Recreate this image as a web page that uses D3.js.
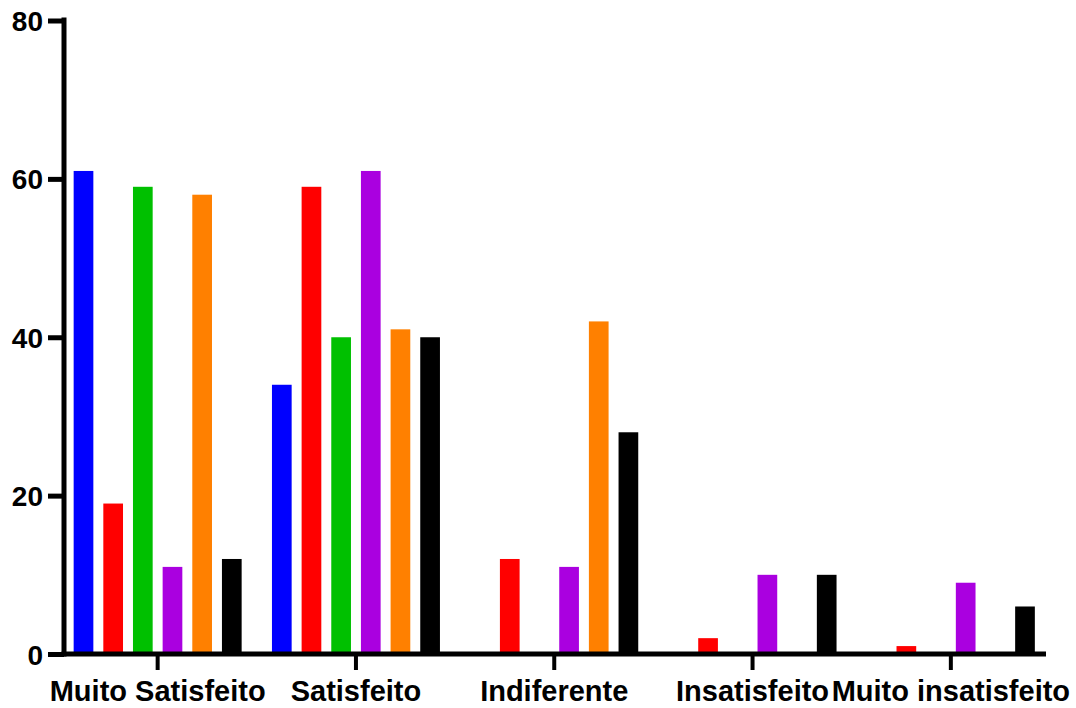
<!DOCTYPE html>
<html>
<head>
<meta charset="utf-8">
<script src="https://cdn.jsdelivr.net/npm/d3@7"></script>
<style>
  html, body { margin: 0; padding: 0; background: #fff; }
  svg { display: block; }
  text { font-family: "Liberation Sans", Arial, Helvetica, sans-serif; font-weight: bold; fill: #000; }
</style>
</head>
<body>
<svg id="chart" width="1076" height="708"></svg>
<script>
const categories = ["Muito Satisfeito", "Satisfeito", "Indiferente", "Insatisfeito", "Muito insatisfeito"];
const seriesNames = ["S1", "S2", "S3", "S4", "S5", "S6"];
const seriesColors = ["#0000ff", "#ff0000", "#00c000", "#aa00e0", "#ff8000", "#000000"];
const s1 = [61, 34, 0, 0, 0];
const s2 = [19, 59, 12, 2, 1];
const s3 = [59, 40, 0, 0, 0];
const s4 = [11, 61, 11, 10, 9];
const s5 = [58, 41, 42, 0, 0];
const s6 = [12, 40, 28, 10, 6];
const seriesValues = [s1, s2, s3, s4, s5, s6];
const yTicks = [0, 20, 40, 60, 80];

const svg = d3.select("#chart");
const axisX = 64;
const x = d3.scaleBand().domain(categories).range([58.5, 1050]).paddingInner(0).paddingOuter(0);
const xs = d3.scaleBand().domain(seriesNames).range([0, x.bandwidth()]).paddingInner(0.336).paddingOuter(0.511);
const y = d3.scaleLinear().domain([0, 80]).range([654, 20.5]);

const data = [];
categories.forEach((c, i) => {
  seriesNames.forEach((s, j) => {
    data.push({ cat: c, ser: s, val: seriesValues[j][i], color: seriesColors[j] });
  });
});

svg.append("g").selectAll("rect").data(data).join("rect")
  .attr("x", d => x(d.cat) + xs(d.ser))
  .attr("width", xs.bandwidth())
  .attr("y", d => y(d.val))
  .attr("height", d => y(0) - y(d.val))
  .attr("fill", d => d.color);

// Y axis
const gy = svg.append("g").attr("transform", `translate(${axisX},0)`)
  .call(d3.axisLeft(y).tickValues(yTicks).tickSize(16).tickSizeOuter(0).tickPadding(5).tickFormat(d3.format("d")));
gy.select(".domain").attr("stroke", "#000").attr("stroke-width", 5).attr("stroke-linecap", "square")
  .attr("d", `M0,${y(80) - 0.5}V${y(0)}`);
gy.selectAll(".tick line").attr("stroke", "#000").attr("stroke-width", 5);
gy.selectAll(".tick text").style("font-size", "28px").attr("dy", "0.36em");

// X axis
const gx = svg.append("g").attr("transform", `translate(0,${y(0)})`)
  .call(d3.axisBottom(x).tickSize(16).tickSizeOuter(0).tickPadding(10));
gx.select(".domain").attr("stroke", "#000").attr("stroke-width", 5)
  .attr("d", `M${axisX - 2.5},0H1046`);
gx.selectAll(".tick line").attr("stroke", "#000").attr("stroke-width", 4);
gx.selectAll(".tick text").style("font-size", "29px");
</script>
</body>
</html>
